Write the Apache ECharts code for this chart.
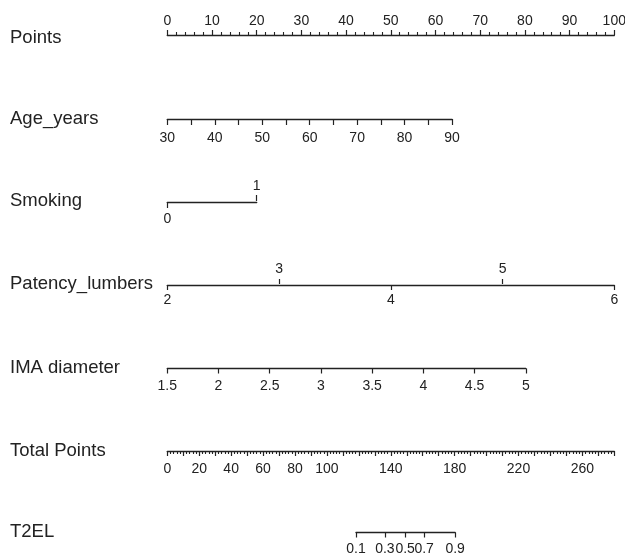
<!DOCTYPE html>
<html>
<head>
<meta charset="utf-8">
<script src="https://cdn.jsdelivr.net/npm/echarts@6/dist/echarts.min.js"></script>
<style>html,body{margin:0;padding:0;background:#fff}#c{width:625px;height:558px}</style>
</head>
<body>
<div id="c"></div>
<script>
// ---- data ----
const rowNames = ['Points', 'Age_years', 'Smoking', 'Patency_lumbers', 'IMA diameter', 'Total Points', 'T2EL'];
const pointsRange = [0, 100];
const ageRange = [30, 90];          // Age 90 -> ~63.7 points
const agePointsAtMax = 63.7;
const smokingLevels = [0, 1];
const smokingPoints = [0, 20];
const patencyLevels = [2, 3, 4, 5, 6];
const patencyTop = [3, 5];
const patencyBottom = [2, 4, 6];
const patencyPointsAtMax = 100;
const imaRange = [1.5, 5];
const imaPointsAtMax = 80.2;
const totalRange = [0, 280];
const totalLabels = [0, 20, 40, 60, 80, 100, 140, 180, 220, 260];
const t2elProbs = ['0.1', '0.3', '0.5', '0.7', '0.9'];
const t2elTotalPoints = [118.2, 136.3, 149.0, 160.9, 180.3];

// ---- layout ----
const X0 = 167.3;
const PX_PER_POINT = 4.47;
const PX_PER_TOTAL = 100 * PX_PER_POINT / totalRange[1];
const rowNameY = [38, 119, 201, 284, 368, 451, 532];
const lineY = [35, 118, 201, 284, 367.5, 450, 531.5];
const ink = '#222';
const tickFont = 14;

const grids = [], xAxes = [], yAxes = [];
function addRow(idx, left, width) {
  grids.push({left: left, top: lineY[idx], width: width, height: 1,
    containLabel: false, outerBoundsMode: 'none'});
  yAxes.push({gridIndex: grids.length - 1, show: false, min: 0, max: 1});
  return grids.length - 1;
}
function baseAxis(gi, pos, min, max, extra) {
  const a = {
    type: 'value', gridIndex: gi, position: pos, min: min, max: max,
    splitLine: {show: false},
    axisLine: {show: true, onZero: false, lineStyle: {color: ink, width: 1.4}},
    axisTick: {show: true, length: 5, lineStyle: {color: ink, width: 1.2}},
    axisLabel: {show: true, color: ink, fontSize: tickFont, fontFamily: 'Liberation Sans', margin: 12}
  };
  for (const k in extra) {
    if (typeof extra[k] === 'object' && !Array.isArray(extra[k]) && a[k]) Object.assign(a[k], extra[k]);
    else a[k] = extra[k];
  }
  xAxes.push(a);
}

// Points
let g = addRow(0, X0, (pointsRange[1] - pointsRange[0]) * PX_PER_POINT);
baseAxis(g, 'top', pointsRange[0], pointsRange[1], {
  interval: 10,
  axisLabel: {margin: 7},
  minorTick: {show: true, splitNumber: 5, length: 3, lineStyle: {color: ink, width: 1.1}}
});

// Age_years
g = addRow(1, X0, agePointsAtMax * PX_PER_POINT);
baseAxis(g, 'bottom', ageRange[0], ageRange[1], {
  interval: 5,
  axisTick: {length: 6},
  axisLabel: {margin: 12, formatter: v => (v % 10 === 0 ? String(v) : '')}
});

// Smoking
g = addRow(2, X0, (smokingPoints[1] - smokingPoints[0]) * PX_PER_POINT);
baseAxis(g, 'top', smokingLevels[0], smokingLevels[1], {
  axisLine: {show: false},
  axisTick: {customValues: [smokingLevels[1]], length: 6},
  axisLabel: {customValues: [smokingLevels[1]], margin: 8}
});
baseAxis(g, 'bottom', smokingLevels[0], smokingLevels[1], {
  axisTick: {customValues: [smokingLevels[0]], length: 6},
  axisLabel: {customValues: [smokingLevels[0]], margin: 10}
});

// Patency_lumbers
g = addRow(3, X0, patencyPointsAtMax * PX_PER_POINT);
baseAxis(g, 'top', patencyLevels[0], patencyLevels[patencyLevels.length - 1], {
  axisLine: {show: false},
  axisTick: {customValues: patencyTop, length: 5},
  axisLabel: {customValues: patencyTop, margin: 8}
});
baseAxis(g, 'bottom', patencyLevels[0], patencyLevels[patencyLevels.length - 1], {
  axisTick: {customValues: patencyBottom, length: 5},
  axisLabel: {customValues: patencyBottom, margin: 8}
});

// IMA diameter
g = addRow(4, X0, imaPointsAtMax * PX_PER_POINT);
baseAxis(g, 'bottom', imaRange[0], imaRange[1], {
  interval: 0.5,
  axisTick: {length: 5},
  axisLabel: {margin: 11}
});

// Total Points
g = addRow(5, X0, (totalRange[1] - totalRange[0]) * PX_PER_TOTAL);
baseAxis(g, 'bottom', totalRange[0], totalRange[1], {
  interval: 10,
  axisTick: {length: 5},
  minorTick: {show: true, splitNumber: 5, length: 3, lineStyle: {color: ink, width: 1.1}},
  axisLabel: {customValues: totalLabels, margin: 11}
});

// T2EL
const t2Min = t2elTotalPoints[0], t2Max = t2elTotalPoints[t2elTotalPoints.length - 1];
g = addRow(6, X0 + t2Min * PX_PER_TOTAL, (t2Max - t2Min) * PX_PER_TOTAL);
baseAxis(g, 'bottom', t2Min, t2Max, {
  axisTick: {customValues: t2elTotalPoints, length: 5},
  axisLabel: {customValues: t2elTotalPoints, margin: 10, formatter: v => {
    let best = 0;
    t2elTotalPoints.forEach((t, i) => { if (Math.abs(t - v) < Math.abs(t2elTotalPoints[best] - v)) best = i; });
    return t2elProbs[best];
  }}
});

const graphics = rowNames.map((name, i) => ({
  type: 'text', x: 10, y: rowNameY[i],
  style: {text: name, fill: ink, font: '18.5px "Liberation Sans"', verticalAlign: 'middle', align: 'left'}
}));

const chart = echarts.init(document.getElementById('c'), null, {renderer: 'canvas'});
chart.setOption({
  animation: false,
  backgroundColor: '#fff',
  grid: grids,
  xAxis: xAxes,
  yAxis: yAxes,
  graphic: graphics,
  series: []
});
</script>
</body>
</html>
